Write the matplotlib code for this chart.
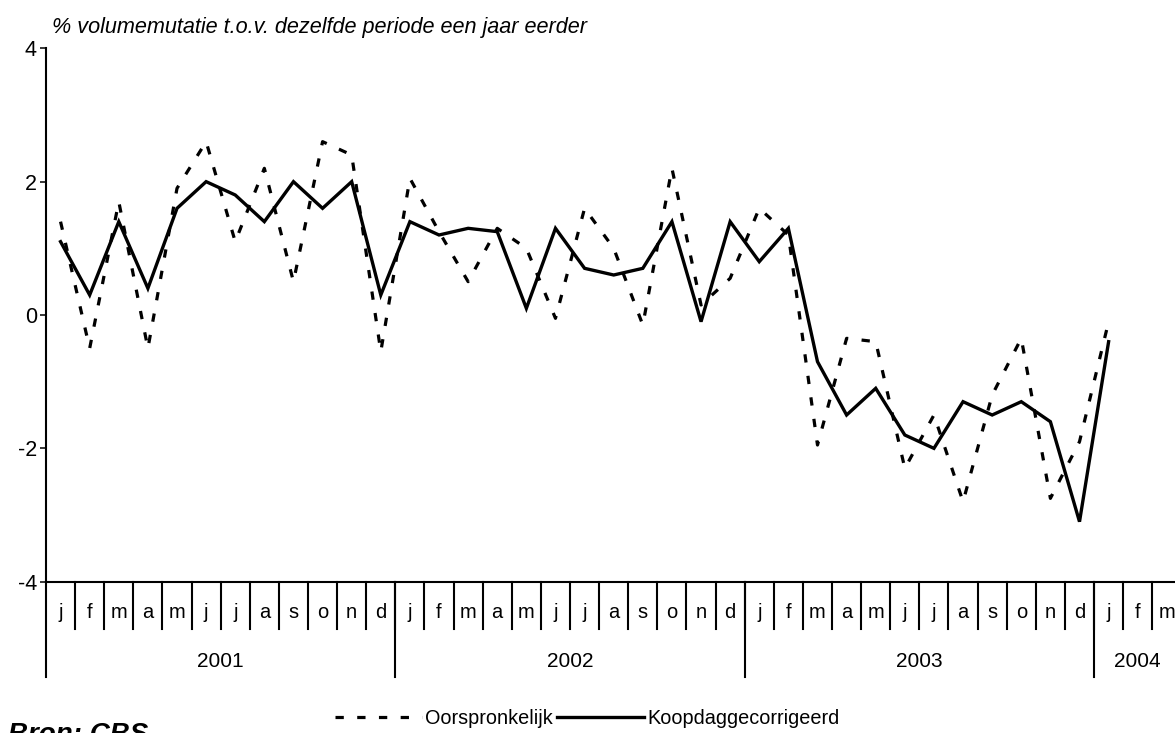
import matplotlib
matplotlib.use("Agg")
import matplotlib.pyplot as plt
from matplotlib.transforms import blended_transform_factory

plt.rcParams['font.family'] = ['Liberation Sans', 'DejaVu Sans']

# maand-labels en jaren
maanden = ['j', 'f', 'm', 'a', 'm', 'j', 'j', 'a', 's', 'o', 'n', 'd']
month_labels = maanden * 3 + ['j', 'f', 'm']
years = ['2001', '2002', '2003', '2004']
year_months = [12, 12, 12, 3]

# % volumemutatie, jan 2001 .. jan 2004
oorspronkelijk = [1.4, -0.5, 1.7, -0.5, 1.9, 2.6, 1.1, 2.2, 0.5, 2.6, 2.4, -0.55,
                  2.05, 1.25, 0.5, 1.3, 1.0, -0.05, 1.6, 1.0, -0.15, 2.2, 0.15, 0.55,
                  1.6, 1.2, -1.95, -0.35, -0.4, -2.3, -1.5, -2.8, -1.2, -0.35, -2.75, -1.9,
                  -0.1]
koopdag = [1.1, 0.3, 1.4, 0.4, 1.6, 2.0, 1.8, 1.4, 2.0, 1.6, 2.0, 0.3,
           1.4, 1.2, 1.3, 1.25, 0.1, 1.3, 0.7, 0.6, 0.7, 1.4, -0.1, 1.4,
           0.8, 1.3, -0.7, -1.5, -1.1, -1.8, -2.0, -1.3, -1.5, -1.3, -1.6, -3.1,
           -0.4]

W, H = 1175, 733
fig = plt.figure(figsize=(W / 100, H / 100), dpi=100)
# right edge sits past the canvas, like the cropped original
ax = fig.add_axes([46 / W, (H - 581.7) / H, (1181.4 - 46) / W, 533.4 / H])

x = [i + 0.5 for i in range(len(koopdag))]
ax.plot(x, oorspronkelijk, color='black', lw=2.3, linestyle=(0, (2.6, 4.2)),
        dash_capstyle='butt', label='Oorspronkelijk', clip_on=False)
ax.plot(x, koopdag, color='black', lw=2.4, label='Koopdaggecorrigeerd',
        solid_joinstyle='miter', clip_on=False)

ax.set_xlim(0, len(month_labels))
ax.set_ylim(-4, 4)
ax.set_yticks([-4, -2, 0, 2, 4])
ax.set_yticklabels(['-4', '-2', '0', '2', '4'], fontsize=15.5)
ax.tick_params(axis='y', direction='out', length=4, width=1.1, pad=2.5)
ax.tick_params(axis='x', bottom=False, labelbottom=False)
for s in ['top', 'right']:
    ax.spines[s].set_visible(False)
ax.spines['left'].set_linewidth(1.5)
ax.spines['bottom'].set_linewidth(1.5)

# categorie-as onder de grafiek
tr = blended_transform_factory(ax.transData, ax.transAxes)
for i, lab in enumerate(month_labels):
    ax.plot([i + 1, i + 1], [0, -0.0892], color='black', lw=1.5, transform=tr, clip_on=False)
    ax.text(i + 0.5, -0.058, lab, transform=tr, ha='center', va='center', fontsize=14.5)
start = 0
for yr, n in zip(years, year_months):
    ax.plot([start, start], [0, -0.1787], color='black', lw=1.5, transform=tr, clip_on=False)
    ax.text(start + n / 2, -0.150, yr, transform=tr, ha='center', va='center', fontsize=15)
    start += n

fig.text(52 / W, (H - 27) / H, '% volumemutatie t.o.v. dezelfde periode een jaar eerder',
         fontsize=15.6, style='italic', ha='left', va='center')
fig.text(8 / W, (H - 721.7) / H, 'Bron: CBS', fontsize=20, style='italic',
         fontweight='bold', ha='left', va='top')

fig.legend(loc='center', bbox_to_anchor=(587 / W, (H - 718) / H), ncol=2, frameon=False,
           fontsize=14.3, handlelength=4.4, handletextpad=0.15, columnspacing=0.2,
           borderpad=0, borderaxespad=0)

fig.savefig('out.png', dpi=100)
